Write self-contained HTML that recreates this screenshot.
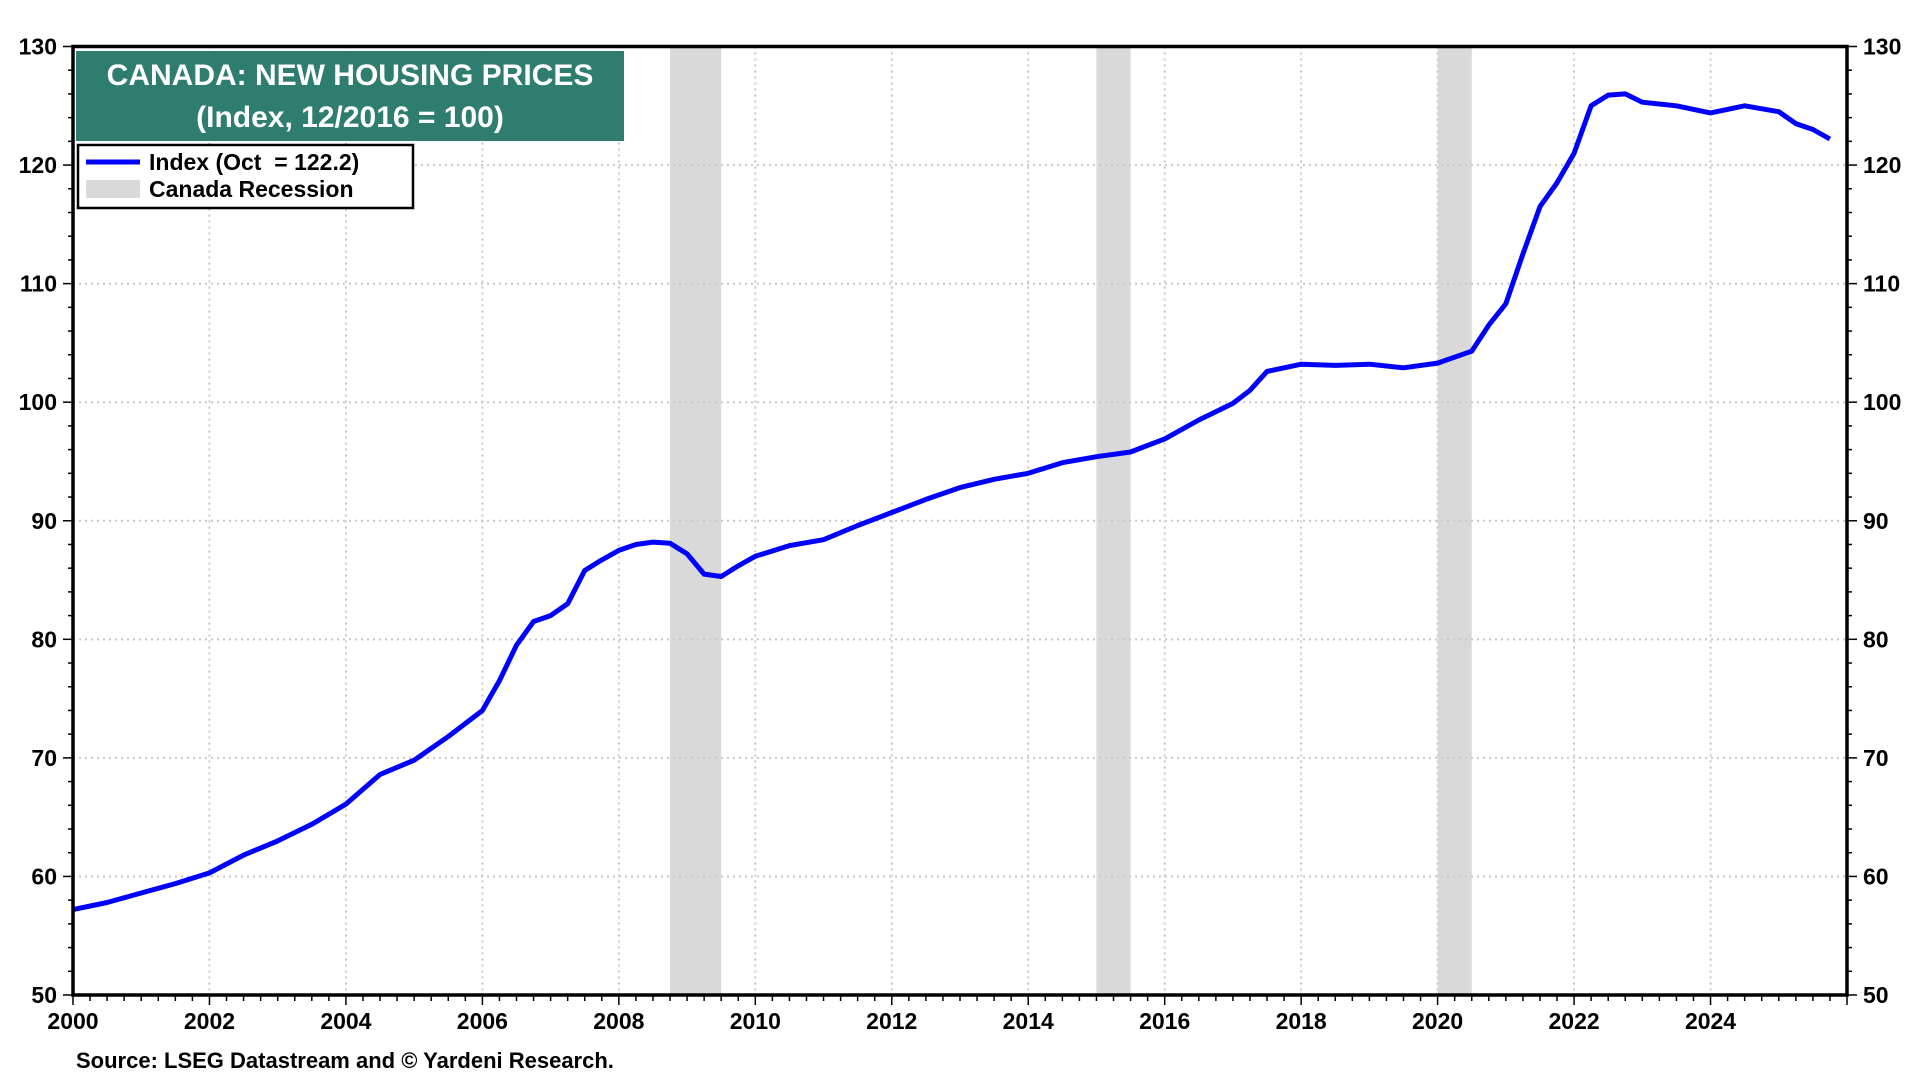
<!DOCTYPE html>
<html><head><meta charset="utf-8"><style>
html,body{margin:0;padding:0;background:#fff;}
svg{display:block;font-family:"Liberation Sans",Arial,sans-serif;}
</style></head><body>
<svg id="chart" width="1920" height="1080" viewBox="0 0 1920 1080">
<g id="rec"></g>
<g id="grid"></g>
<g id="series"></g>
<g id="axes"></g>
<g>
<rect x="76" y="51" width="548" height="90" fill="#2e7d6f"/>
<text x="350" y="85" text-anchor="middle" font-size="30" font-weight="bold" fill="#fff" style="font-stretch:condensed">CANADA: NEW HOUSING PRICES</text>
<text x="350" y="127" text-anchor="middle" font-size="30" font-weight="bold" fill="#fff">(Index, 12/2016 = 100)</text>
</g>
<g>
<rect x="78" y="145" width="335" height="63" fill="#fff" stroke="#000" stroke-width="2.5"/>
<line x1="86" y1="162" x2="140" y2="162" stroke="#0000ff" stroke-width="5"/>
<text x="149" y="170" font-size="23" font-weight="bold">Index (Oct&#160; = 122.2)</text>
<rect x="86" y="180" width="54" height="18" fill="#d9d9d9"/>
<text x="149" y="197" font-size="23" font-weight="bold">Canada Recession</text>
</g>
<text x="76" y="1068" font-size="22" font-weight="bold">Source: LSEG Datastream and © Yardeni Research.</text>
</svg>
<script>
const years = [2000,2000.5,2001,2001.5,2002,2002.5,2003,2003.5,2004,2004.5,2005,2005.5,2006,2006.25,2006.5,2006.75,2007,2007.25,2007.5,2007.75,2008,2008.25,2008.5,2008.75,2009,2009.25,2009.5,2009.75,2010,2010.5,2011,2011.5,2012,2012.5,2013,2013.5,2014,2014.5,2015,2015.5,2016,2016.5,2017,2017.25,2017.5,2018,2018.5,2019,2019.5,2020,2020.5,2020.75,2021,2021.25,2021.5,2021.75,2022,2022.25,2022.5,2022.75,2023,2023.5,2024,2024.5,2025,2025.25,2025.5,2025.75];
const values = [57.2,57.8,58.6,59.4,60.3,61.8,63.0,64.4,66.1,68.6,69.8,71.8,74.0,76.5,79.5,81.5,82.0,83.0,85.8,86.7,87.5,88.0,88.2,88.1,87.2,85.5,85.3,86.2,87.0,87.9,88.4,89.6,90.7,91.8,92.8,93.5,94.0,94.9,95.4,95.8,96.9,98.5,99.9,101.0,102.6,103.2,103.1,103.2,102.9,103.3,104.3,106.5,108.3,112.5,116.5,118.5,121.0,125.0,125.9,126.0,125.3,125.0,124.4,125.0,124.5,123.5,123.0,122.2];
const recStart = [2008.75,2015.0,2020.0];
const recEnd = [2009.5,2015.5,2020.5];
const yTicks = [50,60,70,80,90,100,110,120,130];
const xTickLabels = [2000,2002,2004,2006,2008,2010,2012,2014,2016,2018,2020,2022,2024];

const L=73,R=1847,T=46.5,B=995,X0=2000,X1=2026,Y0=50,Y1=130;
const xs=v=>L+(v-X0)/(X1-X0)*(R-L);
const ys=v=>B-(v-Y0)/(Y1-Y0)*(B-T);
const NS="http://www.w3.org/2000/svg";
function mk(tag,attrs,parent){const e=document.createElementNS(NS,tag);for(const k in attrs)e.setAttribute(k,attrs[k]);parent.appendChild(e);return e;}
const gRec=document.getElementById('rec'),gGrid=document.getElementById('grid'),gSer=document.getElementById('series'),gAx=document.getElementById('axes');

recStart.forEach((s,i)=>{
  const r=mk('rect',{x:xs(s),y:T,width:xs(recEnd[i])-xs(s),height:B-T,fill:'#d9d9d9'},gRec);
  
  
});
yTicks.forEach(v=>{
  if(v>Y0&&v<Y1){const l=mk('line',{x1:L,x2:R,y1:ys(v),y2:ys(v),stroke:'#c8c8c8','stroke-width':2,'stroke-dasharray':'2,4'},gGrid);
  
  }
  const t1=mk('text',{x:L-16,y:ys(v)+8,'text-anchor':'end','font-size':23,'font-weight':'bold'},gAx);t1.textContent=v;
  
  
  const t2=mk('text',{x:R+16,y:ys(v)+8,'text-anchor':'start','font-size':23,'font-weight':'bold'},gAx);t2.textContent=v;
  
  
});
for(let v=Y0;v<=Y1;v+=2){
  const big=v%10===0,len=big?10:5;
  mk('line',{x1:L-len,x2:L,y1:ys(v),y2:ys(v),stroke:'#000','stroke-width':1.5},gAx);
  mk('line',{x1:R,x2:R+len,y1:ys(v),y2:ys(v),stroke:'#000','stroke-width':1.5},gAx);
}
xTickLabels.forEach(v=>{
  if(v>X0){const l=mk('line',{x1:xs(v),x2:xs(v),y1:T,y2:B,stroke:'#c8c8c8','stroke-width':2,'stroke-dasharray':'2,4'},gGrid);
  
  }
  const t=mk('text',{x:xs(v),y:B+34,'text-anchor':'middle','font-size':23,'font-weight':'bold'},gAx);t.textContent=v;
  
  
});
for(let q=0;q<=(X1-X0)*4;q++){
  const v=X0+q/4,big=(q%8===0),len=big?10:6;
  mk('line',{x1:xs(v),x2:xs(v),y1:B,y2:B+len,stroke:'#000','stroke-width':1.5},gAx);
}
const frame=mk('rect',{x:L,y:T,width:R-L,height:B-T,fill:'none',stroke:'#000','stroke-width':3.5},gAx);


const pts=years.map((y,i)=>xs(y).toFixed(1)+','+ys(values[i]).toFixed(1)).join(' ');
const pl=mk('polyline',{points:pts,fill:'none',stroke:'#0000ff','stroke-width':5,'stroke-linejoin':'round'},gSer);


</script>
</body></html>
